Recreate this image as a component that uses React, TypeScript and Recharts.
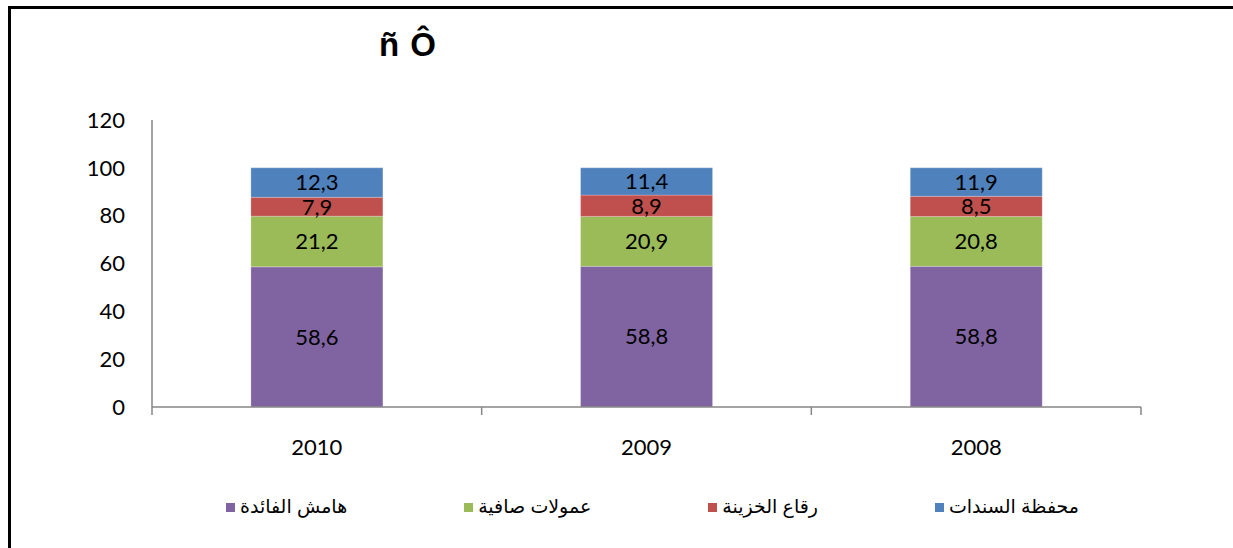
import React from 'react';
import { BarChart, Bar, XAxis, YAxis, Legend, LabelList } from 'recharts';

const years = ['2010', '2009', '2008'];
const interestMargin = [58.6, 58.8, 58.8];
const netCommissions = [21.2, 20.9, 20.8];
const treasuryFees = [7.9, 8.9, 8.5];
const bondPortfolio = [12.3, 11.4, 11.9];
const yTicks = [0, 20, 40, 60, 80, 100, 120];

const seriesNames = {
  interestMargin: 'هامش الفائدة',
  netCommissions: 'عمولات صافية',
  treasuryFees: 'رقاع الخزينة',
  bondPortfolio: 'محفظة السندات',
};

const colors = {
  interestMargin: '#8064A2',
  netCommissions: '#9BBB59',
  treasuryFees: '#C0504D',
  bondPortfolio: '#4F81BD',
};

const keys: (keyof typeof colors)[] = ['interestMargin', 'netCommissions', 'treasuryFees', 'bondPortfolio'];

const data = years.map((y, i) => ({
  year: y,
  interestMargin: interestMargin[i],
  netCommissions: netCommissions[i],
  treasuryFees: treasuryFees[i],
  bondPortfolio: bondPortfolio[i],
}));

const fmt = (v: any) => Number(v).toFixed(1).replace('.', ',');
const axisColor = '#868686';
const numFont = 'Lato, Carlito, sans-serif';

const LegendContent = (props: any) => {
  const payload = [...(props.payload || [])].sort(
    (a: any, b: any) => keys.indexOf(a.dataKey) - keys.indexOf(b.dataKey)
  );
  return (
    <div style={{ display: 'flex', flexDirection: 'row', alignItems: 'center' }}>
      {payload.map((p: any, i: number) => (
        <div
          key={i}
          style={{
            display: 'flex',
            alignItems: 'center',
            marginRight: i < payload.length - 1 ? 117 : 0,
          }}
        >
          <span style={{ display: 'inline-block', width: 9, height: 9, background: p.color, marginRight: 5 }} />
          <span
            dir="rtl"
            style={{ fontFamily: 'Arial, "DejaVu Sans", sans-serif', fontSize: 19, color: '#000', lineHeight: '22px' }}
          >
            {p.value}
          </span>
        </div>
      ))}
    </div>
  );
};

const CategoryTick = (props: any) => {
  const { x, y, payload, index, visibleTicksCount } = props;
  const half = payload && payload.offset ? payload.offset : 0;
  const last = visibleTicksCount ? index === visibleTicksCount - 1 : index === years.length - 1;
  return (
    <g>
      <line x1={x - half} x2={x - half} y1={y} y2={y + 8} stroke={axisColor} strokeWidth={1.5} />
      {last && <line x1={x + half} x2={x + half} y1={y} y2={y + 8} stroke={axisColor} strokeWidth={1.5} />}
      <text
        x={x}
        y={y + 32}
        dy="0.71em"
        textAnchor="middle"
        fill="#000"
        style={{ fontSize: 22, fontFamily: numFont }}
      >
        {payload.value}
      </text>
    </g>
  );
};

export default function App() {
  return (
    <div style={{ position: 'absolute', left: 0, top: 0, width: 1233, height: 548, background: '#fff' }}>
      <div
        style={{
          position: 'absolute',
          left: 8,
          top: 6,
          width: 1233 - 8,
          height: 548 - 6,
          borderTop: '3px solid #000',
          borderLeft: '3px solid #000',
          boxSizing: 'border-box',
        }}
      />
      <div
        style={{
          position: 'absolute',
          left: 379,
          top: 26,
          fontFamily: '"Liberation Sans", Arial, sans-serif',
          fontSize: 33,
          fontWeight: 'bold',
          color: '#000',
          whiteSpace: 'pre',
          lineHeight: 1.15,
          letterSpacing: 1,
        }}
      >
        ñ Ô
      </div>
      <div style={{ position: 'absolute', left: 0, top: 0 }}>
        <BarChart
          width={1233}
          height={548}
          data={data}
          margin={{ top: 120, right: 92, bottom: 81, left: 0 }}
          barCategoryGap="30%"
        >
          <XAxis
            dataKey="year"
            height={60}
            axisLine={{ stroke: axisColor, strokeWidth: 1.5 }}
            tickLine={false}
            tickSize={0}
            tickMargin={0}
            interval={0}
            tick={<CategoryTick />}
          />
          <YAxis
            width={152}
            domain={[0, 120]}
            ticks={yTicks}
            axisLine={{ stroke: axisColor, strokeWidth: 1.5 }}
            tickLine={false}
            tickSize={0}
            tickMargin={27}
            tick={{ fill: '#000', fontSize: 22, fontFamily: numFont }}
          />
          <Legend
            verticalAlign="middle"
            layout="horizontal"
            content={<LegendContent />}
            wrapperStyle={{ position: 'absolute', top: 496, left: 226, width: 'auto' }}
          />
          {keys.map((k) => (
            <Bar
              key={k}
              dataKey={k}
              name={seriesNames[k]}
              stackId="s"
              fill={colors[k]}
              stroke="#ffffff"
              strokeOpacity={0.4}
              strokeWidth={0.6}
              isAnimationActive={false}
            >
              <LabelList
                dataKey={k}
                position="center"
                formatter={fmt}
                fill="#000"
                style={{ fontSize: 22, fontFamily: numFont, fill: '#000' }}
              />
            </Bar>
          ))}
        </BarChart>
      </div>
    </div>
  );
}
